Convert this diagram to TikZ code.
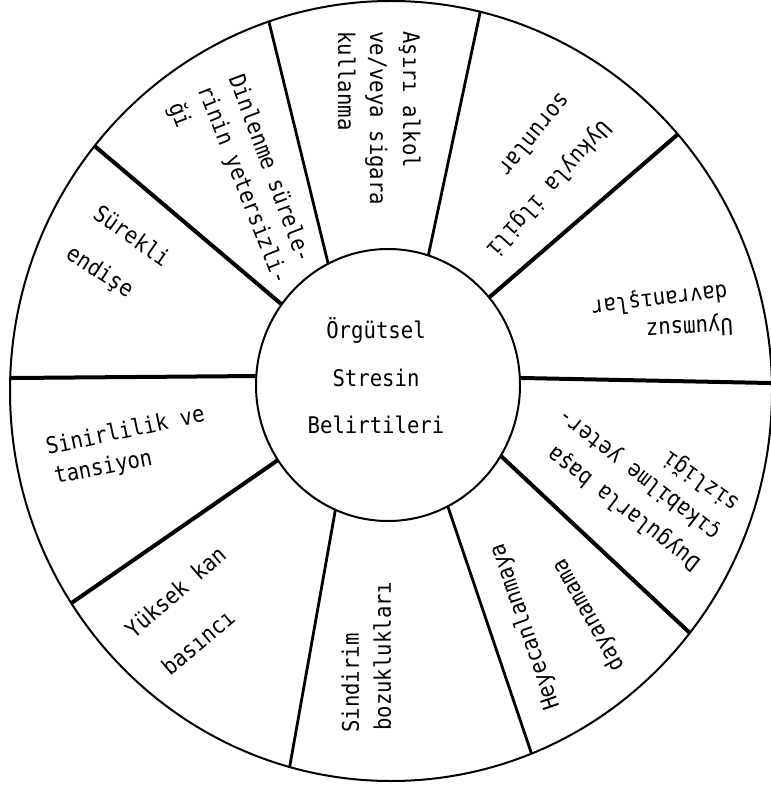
\documentclass[tikz,border=0pt]{standalone}
\usepackage{fontspec}
\newfontfamily\typefont[FakeStretch=0.9]{DejaVu Sans Mono}
\begin{document}
\begin{tikzpicture}[x=0.75pt,y=-0.75pt,
  rim/.style={line width=1.5pt},
  spokebold/.style={line width=3pt, shorten <=-3pt, shorten >=-8pt},
  spokemid/.style={line width=2.1pt, shorten <=-3pt, shorten >=-8pt},
  lbl/.style={font=\typefont\fontsize{17.2pt}{24pt}\selectfont, inner sep=0pt, anchor=mid west},
  hub/.style={font=\typefont\fontsize{17.2pt}{24pt}\selectfont, inner sep=0pt, anchor=base}]
\useasboundingbox (0,0) rectangle (770,787);

% wheel centre and spoke end points (inner rim -> outer rim)
\coordinate (i1) at (428,257);  \coordinate (o1) at (480,13);
\coordinate (i2) at (328,263);  \coordinate (o2) at (269,22);
\coordinate (i3) at (280,303);  \coordinate (o3) at (97,148);
\coordinate (i4) at (258,376);  \coordinate (o4) at (13,378);
\coordinate (i5) at (278,460);  \coordinate (o5) at (73,602);
\coordinate (i6) at (335,512);  \coordinate (o6) at (290,765);
\coordinate (i7) at (448,507);  \coordinate (o7) at (532,755);
\coordinate (i8) at (502,457);  \coordinate (o8) at (692,635);
\coordinate (i9) at (522,378);  \coordinate (o9) at (770,383);
\coordinate (i10) at (492,295); \coordinate (o10) at (677,135);

% spokes, trimmed to the outer rim
\begin{scope}
  \clip (391,391) ellipse [x radius=285.75pt, y radius=292.5pt];
  \draw[spokemid]  (i1) -- (o1);
  \draw[spokemid]  (i2) -- (o2);
  \draw[spokebold] (i3) -- (o3);
  \draw[spokebold] (i4) -- (o4);
  \draw[spokebold] (i5) -- (o5);
  \draw[spokemid]  (i6) -- (o6);
  \draw[spokemid]  (i7) -- (o7);
  \draw[spokebold] (i8) -- (o8);
  \draw[spokebold] (i9) -- (o9);
  \draw[spokebold] (i10) -- (o10);
\end{scope}

% rims
\draw[rim, fill=white] (388,385) ellipse [x radius=99pt, y radius=102pt];
\draw[rim] (391,391) ellipse [x radius=285.75pt, y radius=292.5pt];

% hub
\node[hub] (h1) at (376,338) {Örgütsel};
\node[hub] (h2) at (376,386) {Stresin};
\node[hub] (h3) at (376,433) {Belirtileri};

% sector labels
\node[lbl, rotate=-90] (a1) at (406,31) {Aşırı alkol};
\node[lbl, rotate=-90] (a2) at (373,31) {ve/veya sigara};
\node[lbl, rotate=-90] (a3) at (341,31) {kullanma};

\node[lbl, rotate=-69.5] (d1) at (231,77) {Dinlenme sürele-};
\node[lbl, rotate=-68.5] (d2) at (200,88) {rinin yetersizli-};
\node[lbl, rotate=-68.5] (d3) at (171,105) {ği};

\node[lbl, rotate=-35] (s1) at (93,215) {Sürekli};
\node[lbl, rotate=-33] (s2) at (66,255) {endişe};

\node[lbl, rotate=12] (n1) at (47,452) {Sinirlilik ve};
\node[lbl, rotate=11] (n2) at (55,481) {tansiyon};

\node[lbl, rotate=41] (y1) at (132,637) {Yüksek kan};
\node[lbl, rotate=40] (y2) at (168,674) {basıncı};

\node[lbl, rotate=90] (b1) at (356,733) {Sindirim};
\node[lbl, rotate=90] (b2) at (388,731) {bozuklukları};

\node[lbl, rotate=109] (e1) at (557,708) {Heyecanlanmaya};
\node[lbl, rotate=119] (e2) at (622,668) {dayanamama};

\node[lbl, rotate=142] (u1) at (700,563) {Duygularla başa};
\node[lbl, rotate=142] (u2) at (720,533) {çıkabilme yeter-};
\node[lbl, rotate=145] (u3) at (739,503) {sizliği};

\node[lbl, rotate=183] (m1) at (733,321) {Uyumsuz};
\node[lbl, rotate=187] (m2) at (727,287) {davranışlar};

\node[lbl, rotate=-132] (k1) at (604,121) {Uykuyla ilgili};
\node[lbl, rotate=-129] (k2) at (562,93) {sorunlar};
\end{tikzpicture}
\end{document}
